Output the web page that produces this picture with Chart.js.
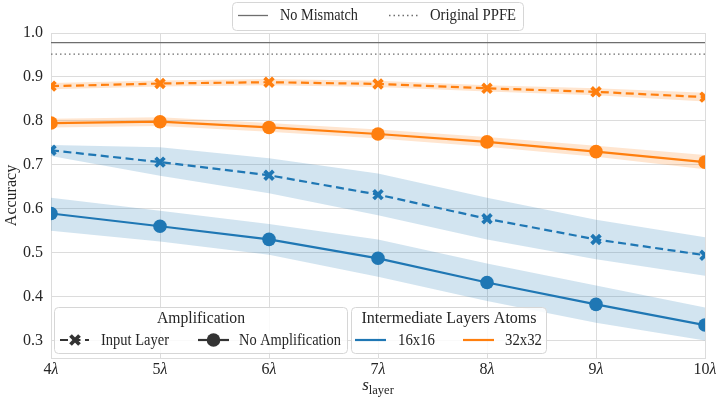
<!DOCTYPE html>
<html>
<head>
<meta charset="utf-8">
<script src="https://cdn.jsdelivr.net/npm/chart.js@4.4.0/dist/chart.umd.min.js"></script>
<style>
  html, body { margin: 0; padding: 0; background: #fff; }
  #wrap { width: 718px; height: 398px; }
</style>
</head>
<body>
<div id="wrap"><canvas id="myChart" width="718" height="398"></canvas></div>
<script>
const xValues = [4, 5, 6, 7, 8, 9, 10]
const yTicks = [0.3, 0.4, 0.5, 0.6, 0.7, 0.8, 0.9, 1.0]

// 16x16, input layer amplification (dashed)
const blueInput = [0.733, 0.706, 0.676, 0.632, 0.577, 0.530, 0.494]
const blueInputLow = [0.720, 0.675, 0.635, 0.585, 0.530, 0.485, 0.447]
const blueInputHigh = [0.745, 0.740, 0.715, 0.680, 0.625, 0.575, 0.535]
// 16x16, no amplification (solid)
const blueNone = [0.589, 0.560, 0.530, 0.487, 0.432, 0.382, 0.335]
const blueNoneLow = [0.550, 0.525, 0.495, 0.445, 0.390, 0.340, 0.300]
const blueNoneHigh = [0.625, 0.595, 0.565, 0.530, 0.475, 0.425, 0.375]
// 32x32, input layer amplification (dashed)
const orangeInput = [0.879, 0.885, 0.888, 0.884, 0.874, 0.866, 0.854]
const orangeInputLow = [0.872, 0.878, 0.881, 0.877, 0.867, 0.858, 0.844]
const orangeInputHigh = [0.886, 0.892, 0.895, 0.891, 0.881, 0.874, 0.864]
// 32x32, no amplification (solid)
const orangeNone = [0.795, 0.798, 0.785, 0.770, 0.752, 0.730, 0.706]
const orangeNoneLow = [0.785, 0.788, 0.775, 0.760, 0.741, 0.718, 0.690]
const orangeNoneHigh = [0.805, 0.808, 0.795, 0.780, 0.763, 0.743, 0.722]

const noMismatch = 0.978
const originalPPFE = 0.952

const blue = '#1f77b4'
const orange = '#ff7f0e'
const blueBand = 'rgba(31,119,180,0.2)'
const orangeBand = 'rgba(255,127,14,0.2)'
const refGray = '#6e6e6e'
const gridColor = '#dcdcdc'
const fontFamily = "'Liberation Serif', 'DejaVu Serif', serif"
const fontSize = 16

function pts(values) {
  return xValues.map((x, i) => ({ x: x, y: values[i] }))
}

function band(low, high, color) {
  return [
    { data: pts(low), borderWidth: 0, pointRadius: 0, fill: false, order: 10 },
    { data: pts(high), borderWidth: 0, pointRadius: 0, fill: '-1', backgroundColor: color, order: 10 }
  ]
}

function line(values, color, dashed) {
  return {
    data: pts(values),
    borderColor: color,
    backgroundColor: color,
    borderWidth: 2.2,
    borderDash: dashed ? [8, 4.5] : [],
    pointStyle: dashed ? 'crossRot' : 'circle',
    pointRadius: dashed ? 6.2 : 6.8,
    pointBorderWidth: dashed ? 3.8 : 0,
    pointBorderColor: color,
    pointBackgroundColor: color,
    fill: false,
    order: 1
  }
}

function refLine(value, dashed) {
  return {
    data: [{ x: 4, y: value }, { x: 10, y: value }],
    borderColor: refGray,
    borderWidth: 1.3,
    borderDash: dashed ? [1.5, 3] : [],
    pointRadius: 0,
    fill: false,
    order: 2
  }
}

function legendBox(ctx, x, y, w, h) {
  ctx.save()
  ctx.beginPath()
  ctx.roundRect(x + 0.5, y + 0.5, w, h, 4)
  ctx.fillStyle = 'rgba(255,255,255,0.85)'
  ctx.fill()
  ctx.strokeStyle = '#d6d6d6'
  ctx.lineWidth = 1
  ctx.stroke()
  ctx.restore()
}

function legendLine(ctx, x1, x2, y, color, dash, width) {
  ctx.save()
  ctx.beginPath()
  ctx.setLineDash(dash)
  ctx.strokeStyle = color
  ctx.lineWidth = width
  ctx.moveTo(x1, y)
  ctx.lineTo(x2, y)
  ctx.stroke()
  ctx.restore()
}

const overlay = {
  id: 'overlay',
  afterDraw(chart) {
    const ctx = chart.ctx
    const xs = chart.scales.x
    const area = chart.chartArea
    const f = fontSize + 'px ' + fontFamily
    const fi = 'italic ' + fontSize + 'px ' + fontFamily
    ctx.save()
    ctx.fillStyle = '#262626'
    ctx.textBaseline = 'middle'

    // x tick labels: number + italic lambda
    xValues.forEach(v => {
      const px = xs.getPixelForValue(v)
      const num = String(v)
      ctx.font = f
      const wn = ctx.measureText(num).width
      ctx.font = fi
      const wl = ctx.measureText('λ').width
      let x0 = px - (wn + wl) / 2
      ctx.textAlign = 'left'
      ctx.font = f
      ctx.fillText(num, x0, 370)
      ctx.font = fi
      ctx.fillText('λ', x0 + wn, 370)
    })

    // x axis title s_layer
    ctx.font = 'italic 17px ' + fontFamily
    const ws = ctx.measureText('s').width
    ctx.font = '12.5px ' + fontFamily
    const wsub = ctx.measureText('layer').width
    const cx = (area.left + area.right) / 2
    let sx = cx - (ws + wsub) / 2
    ctx.font = 'italic 17px ' + fontFamily
    ctx.fillText('s', sx, 386)
    ctx.font = '12.5px ' + fontFamily
    ctx.fillText('layer', sx + ws, 391)

    // y axis title
    ctx.save()
    ctx.translate(12, (area.top + area.bottom) / 2)
    ctx.rotate(-Math.PI / 2)
    ctx.textAlign = 'center'
    ctx.font = f
    ctx.fillText('Accuracy', 0, 0)
    ctx.restore()

    // top legend
    legendBox(ctx, 232, 2, 291, 28)
    legendLine(ctx, 238, 268, 15.5, refGray, [], 1.3)
    legendLine(ctx, 389, 419, 15.5, refGray, [1.5, 3], 1.3)
    ctx.textAlign = 'left'
    ctx.font = f
    ctx.fillStyle = '#262626'
    ctx.fillText('No Mismatch', 280, 16, 78)
    ctx.fillText('Original PPFE', 430, 16, 86)

    // amplification legend
    legendBox(ctx, 54, 307, 293, 46)
    ctx.textAlign = 'center'
    ctx.fillText('Amplification', 201, 319, 88)
    legendLine(ctx, 60, 89, 340, '#333', [8, 4.5], 2.2)
    ctx.save()
    ctx.strokeStyle = '#333'
    ctx.lineWidth = 3.8
    ctx.beginPath()
    ctx.moveTo(70.5, 335.5); ctx.lineTo(79.5, 344.5)
    ctx.moveTo(79.5, 335.5); ctx.lineTo(70.5, 344.5)
    ctx.stroke()
    ctx.restore()
    legendLine(ctx, 198, 229, 340, '#333', [], 2.2)
    ctx.beginPath()
    ctx.fillStyle = '#333'
    ctx.arc(213.5, 340, 6.8, 0, Math.PI * 2)
    ctx.fill()
    ctx.fillStyle = '#262626'
    ctx.textAlign = 'left'
    ctx.fillText('Input Layer', 101, 341, 68)
    ctx.fillText('No Amplification', 239, 341, 102)

    // atoms legend
    legendBox(ctx, 351, 307, 195, 46)
    ctx.textAlign = 'center'
    ctx.fillText('Intermediate Layers Atoms', 449, 319, 175)
    legendLine(ctx, 355, 386, 340, blue, [], 2.2)
    legendLine(ctx, 463, 494, 340, orange, [], 2.2)
    ctx.textAlign = 'left'
    ctx.fillText('16x16', 398, 341, 37)
    ctx.fillText('32x32', 505, 341, 37)

    ctx.restore()
  }
}

const ctx = document.getElementById('myChart')
const datasets = [].concat(
  band(blueInputLow, blueInputHigh, blueBand),
  band(blueNoneLow, blueNoneHigh, blueBand),
  band(orangeInputLow, orangeInputHigh, orangeBand),
  band(orangeNoneLow, orangeNoneHigh, orangeBand),
  [
    line(blueInput, blue, true),
    line(blueNone, blue, false),
    line(orangeInput, orange, true),
    line(orangeNone, orange, false),
    refLine(noMismatch, false),
    refLine(originalPPFE, true)
  ]
)

new Chart(ctx, {
  type: 'line',
  data: { datasets: datasets },
  options: {
    responsive: false,
    animation: false,
    layout: { padding: { top: 33, right: 13, left: 0, bottom: 0 } },
    plugins: {
      legend: { display: false },
      tooltip: { enabled: false }
    },
    scales: {
      x: {
        type: 'linear',
        min: 4,
        max: 10,
        afterBuildTicks: scale => { scale.ticks = xValues.map(v => ({ value: v })) },
        afterFit: scale => { scale.height = 40 },
        grid: { color: gridColor, drawTicks: false },
        border: { color: gridColor },
        ticks: { display: false }
      },
      y: {
        min: 0.26,
        max: 1.0,
        afterBuildTicks: scale => { scale.ticks = yTicks.map(v => ({ value: v })) },
        afterFit: scale => { scale.width = 51 },
        grid: { color: gridColor, drawTicks: false },
        border: { color: gridColor },
        ticks: {
          padding: 8,
          color: '#262626',
          font: { family: fontFamily, size: fontSize },
          callback: v => v.toFixed(1)
        }
      }
    }
  },
  plugins: [overlay]
})
</script>
</body>
</html>
